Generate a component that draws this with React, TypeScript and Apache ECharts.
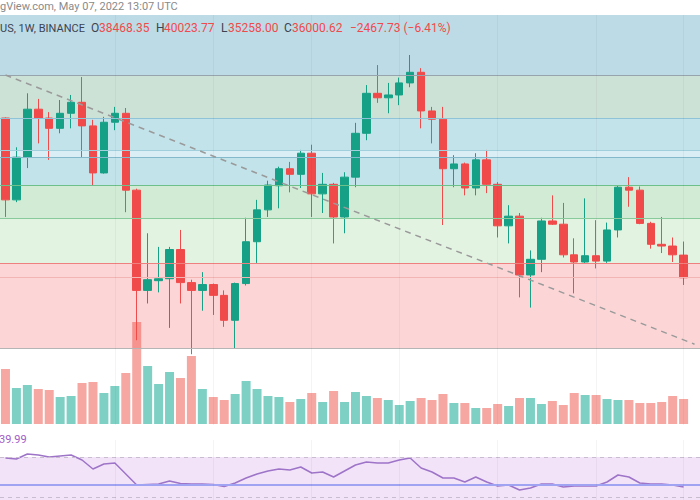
import React, { useEffect, useRef } from 'react';
import * as echarts from 'echarts';

// Weekly candles, BINANCE, 1W
const weeks = [
  '2021-02-22', '2021-03-01', '2021-03-08', '2021-03-15', '2021-03-22', '2021-03-29', '2021-04-05', '2021-04-12',
  '2021-04-19', '2021-04-26', '2021-05-03', '2021-05-10', '2021-05-17', '2021-05-24', '2021-05-31', '2021-06-07',
  '2021-06-14', '2021-06-21', '2021-06-28', '2021-07-05', '2021-07-12', '2021-07-19', '2021-07-26', '2021-08-02',
  '2021-08-09', '2021-08-16', '2021-08-23', '2021-08-30', '2021-09-06', '2021-09-13', '2021-09-20', '2021-09-27',
  '2021-10-04', '2021-10-11', '2021-10-18', '2021-10-25', '2021-11-01', '2021-11-08', '2021-11-15', '2021-11-22',
  '2021-11-29', '2021-12-06', '2021-12-13', '2021-12-20', '2021-12-27', '2022-01-03', '2022-01-10', '2022-01-17',
  '2022-01-24', '2022-01-31', '2022-02-07', '2022-02-14', '2022-02-21', '2022-02-28', '2022-03-07', '2022-03-14',
  '2022-03-21', '2022-03-28', '2022-04-04', '2022-04-11', '2022-04-18', '2022-04-25', '2022-05-02', '2022-05-09',
];

const opens = [
  57400, 45200, 51200, 58900, 57400, 55700, 58200, 60100, 56100, 48900, 56700, 58200, 46500, 34700, 35700, 35900,
  39100, 35500, 34700, 35300, 34200, 31800, 35400, 40000, 43900, 47100, 49500, 48700, 51800, 46000, 47300, 43000,
  48300, 54900, 61700, 60900, 61400, 63600, 65600, 58600, 57200, 49500, 50200, 46800, 50800, 47300, 41900, 43100,
  36300, 38000, 42500, 42100, 38500, 37700, 38400, 37800, 41400, 46900, 46500, 42200, 39700, 39500, 38468.35,
];
const highs = [
  57500, 52700, 61700, 60700, 58400, 60500, 61400, 64700, 57100, 57600, 59300, 59100, 46700, 41000, 39400, 39400,
  41400, 35800, 36600, 35400, 34700, 35500, 42900, 45200, 47800, 49800, 50500, 52300, 53100, 48900, 47500, 49000,
  56600, 63200, 67000, 63600, 64600, 69000, 66400, 59300, 59300, 51500, 50400, 51800, 52300, 47600, 44500, 43500,
  39000, 42900, 45800, 44800, 40400, 45400, 42600, 42300, 47200, 48300, 47000, 42400, 43000, 40500, 40023.77,
];
const lows = [
  43000, 44900, 49600, 53300, 50800, 54900, 55700, 51100, 47200, 48800, 55400, 43600, 30000, 33400, 34500, 31100,
  33400, 28800, 32700, 32300, 31200, 29300, 35200, 37600, 43000, 44100, 46200, 46800, 43000, 43500, 39800, 41000,
  46900, 53800, 60000, 58200, 59600, 62800, 55700, 53300, 42000, 46900, 45800, 45800, 46100, 40500, 39800, 34000,
  33000, 36600, 42000, 38200, 34400, 37600, 37000, 37600, 40500, 44300, 42100, 39200, 38700, 37700, 35258.0,
];
const closes = [
  45200, 51200, 58900, 57400, 55700, 58200, 60100, 56100, 48900, 56700, 58200, 46500, 34700, 35800, 35900, 39100,
  35500, 34700, 35300, 34200, 31800, 35400, 40000, 43900, 47200, 49500, 48700, 51800, 46000, 47300, 43000, 48300,
  54900, 61700, 60900, 61400, 63600, 65600, 58600, 57200, 49500, 50200, 46800, 50800, 47300, 41900, 43100, 36300,
  38000, 42500, 42100, 38500, 37700, 38400, 37800, 41400, 46900, 46500, 42200, 39700, 39500, 38500, 36000.62,
];

const volumes = [
  330000, 216000, 234000, 210000, 204000, 162000, 168000, 246000, 252000, 186000, 228000, 306000, 612000, 348000,
  240000, 312000, 276000, 408000, 210000, 162000, 144000, 180000, 258000, 210000, 168000, 162000, 132000, 150000,
  186000, 132000, 198000, 132000, 192000, 168000, 156000, 144000, 114000, 138000, 156000, 144000, 180000, 126000,
  126000, 96000, 96000, 120000, 108000, 156000, 156000, 120000, 138000, 114000, 186000, 174000, 174000, 150000,
  144000, 144000, 126000, 126000, 132000, 168000, 150000,
];

const rsi = [
  69, 68, 73, 72, 70, 71, 72, 67, 58, 63, 64, 53, 42, 42.5, 43, 46, 43.5, 43, 43, 42.5, 40.5, 44, 49, 53, 56, 58, 57,
  60, 54, 55, 50, 56, 62, 65, 64, 64, 67, 69, 59, 55, 49, 49, 45, 50, 45, 41, 42, 37, 39, 43, 43, 40, 41, 41, 41, 45,
  52, 50, 44, 43, 43, 42, 39.99,
];

// Retracement zones (price levels, top to bottom)
const fibLevels = [77549, 65085, 57402, 52277, 51223, 47201, 42863, 37575, 29321];
const fibFills = ['#bcdbe7', '#cde2d6', '#c3e3ea', '#d9eef5', '#c1e3e9', '#d2ebd5', '#e3f3e2', '#fcd6d7'];
const fibLineColors = ['', '#98a4ad', '#8ec3d8', '#a2cfdc', '#84b9cb', '#6dc089', '#88ca9b', '#ef8080', '#b5b5b5'];
const innerLevel = 36079;
const trendFrom = 65085;
const trendTo = 29657;
const monthStarts = ['2021-05-03', '2021-07-05', '2021-09-06', '2021-11-01', '2022-01-03', '2022-03-07', '2022-05-02'];
const rsiUpper = 70;
const rsiLower = 30;
const rsiSignal = 42;

const priceMin = 23423;
const priceMax = 77549;

const UP = '#16a086';
const DOWN = '#f14a4a';
const VOL_UP = 'rgba(20,170,150,0.55)';
const VOL_DOWN = 'rgba(240,80,70,0.5)';

export default function App() {
  const ref = useRef<HTMLDivElement>(null);

  useEffect(() => {
    if (!ref.current) return;
    const chart = echarts.init(ref.current, undefined, { renderer: 'svg' });

    const last = opens.length - 1;
    const chg = closes[last] - opens[last];
    const pct = (chg / opens[last]) * 100;
    const fmt = (v: number) => v.toFixed(2);
    const minus = (v: number) => (v < 0 ? '\u2212' + fmt(-v) : fmt(v));

    const bands: any[] = [];
    for (let k = 0; k < fibLevels.length - 1; k++) {
      bands.push([
        { yAxis: fibLevels[k], itemStyle: { color: fibFills[k] } },
        { yAxis: fibLevels[k + 1] },
      ]);
    }
    const vlineStyle = { color: 'rgba(60,70,90,0.06)', width: 1, type: 'solid' as const };
    const mainLines: any[] = [];
    for (let k = 1; k < fibLevels.length; k++) {
      mainLines.push({ yAxis: fibLevels[k], lineStyle: { color: fibLineColors[k], width: 1.2, type: 'solid' } });
    }
    mainLines.push({ yAxis: innerLevel, lineStyle: { color: '#f3b4b4', width: 1, type: 'solid' } });
    monthStarts.forEach((m) => mainLines.push({ xAxis: m, lineStyle: vlineStyle }));
    mainLines.push([
      { coord: [weeks[0], trendFrom], lineStyle: { color: '#9a9a9a', width: 1.5, type: [6, 5] } },
      { coord: [weeks[weeks.length - 1], trendTo] },
    ]);

    const txt = (x: number, y: number, text: string, fill: string, size = 12) => ({
      type: 'text',
      x,
      y,
      z: 100,
      zlevel: 0,
      silent: true,
      style: { text, fill, fontSize: size, fontFamily: 'Roboto, Arial, sans-serif', verticalAlign: 'middle' },
    });

    const grids = [
      { left: -4, right: -8, top: 15, height: 410 },
      { left: -4, right: -8, top: 300, height: 124 },
      { left: -4, right: -8, top: 440, height: 60 },
    ];

    chart.setOption({
      animation: false,
      backgroundColor: '#ffffff',
      grid: grids,
      xAxis: grids.map((_, i) => ({
        type: 'category',
        gridIndex: i,
        data: weeks,
        show: false,
        boundaryGap: true,
      })),
      yAxis: [
        { type: 'log', gridIndex: 0, min: priceMin, max: priceMax, show: false, splitLine: { show: false } },
        { type: 'value', gridIndex: 1, min: 0, max: 744000, show: false, splitLine: { show: false } },
        { type: 'value', gridIndex: 2, min: 27, max: 87, show: false, splitLine: { show: false } },
      ],
      series: [
        {
          type: 'candlestick',
          xAxisIndex: 0,
          yAxisIndex: 0,
          barWidth: 8,
          data: opens.map((o, i) => [o, closes[i], lows[i], highs[i]]),
          itemStyle: { color: UP, color0: DOWN, borderColor: UP, borderColor0: DOWN, borderWidth: 1 },
          markArea: { silent: true, data: bands },
          markLine: {
            silent: true,
            symbol: ['none', 'none'],
            label: { show: false },
            emphasis: { disabled: true },
            data: mainLines,
          },
          z: 3,
        },
        {
          type: 'bar',
          xAxisIndex: 1,
          yAxisIndex: 1,
          barWidth: 9,
          data: volumes.map((v, i) => ({
            value: v,
            itemStyle: { color: closes[i] >= opens[i] ? VOL_UP : VOL_DOWN },
          })),
          z: 4,
        },
        {
          type: 'line',
          xAxisIndex: 2,
          yAxisIndex: 2,
          data: rsi,
          symbol: 'none',
          lineStyle: { color: '#9d74c8', width: 1.5 },
          markArea: {
            silent: true,
            data: [[{ yAxis: rsiUpper, itemStyle: { color: '#f3e3f8' } }, { yAxis: 27 }]],
          },
          markLine: {
            silent: true,
            symbol: ['none', 'none'],
            label: { show: false },
            emphasis: { disabled: true },
            data: [
              { yAxis: rsiUpper, lineStyle: { color: '#c8bccf', width: 1, type: [4, 4] } },
              { yAxis: rsiLower, lineStyle: { color: '#c8bccf', width: 1, type: [4, 4] } },
              { yAxis: rsiSignal, lineStyle: { color: '#9fa3f2', width: 2, type: 'solid' } },
              ...monthStarts.map((m) => ({ xAxis: m, lineStyle: vlineStyle })),
            ],
          },
        },
      ],
      graphic: {
        elements: [
          txt(0, 6, 'gView.com, May 07, 2022 13:07 UTC', '#8a8a8a', 11),
          txt(0, 28, 'US, 1W, BINANCE', '#3d4450', 11),
          txt(91, 28, 'O', '#3d4450'),
          txt(99, 28, fmt(opens[last]), DOWN),
          txt(156, 28, 'H', '#3d4450'),
          txt(164, 28, fmt(highs[last]), DOWN),
          txt(221, 28, 'L', '#3d4450'),
          txt(228, 28, fmt(lows[last]), DOWN),
          txt(284, 28, 'C', '#3d4450'),
          txt(292, 28, fmt(closes[last]), DOWN),
          txt(350, 28, minus(chg) + ' (' + minus(pct) + '%)', DOWN),
          txt(-1, 439, fmt(rsi[last]), '#a05cc8', 11),
        ],
      },
    });

    return () => chart.dispose();
  }, []);

  return (
    <div
      ref={ref}
      style={{ position: 'absolute', left: 0, top: 0, width: 700, height: 500, background: '#fff' }}
    />
  );
}
